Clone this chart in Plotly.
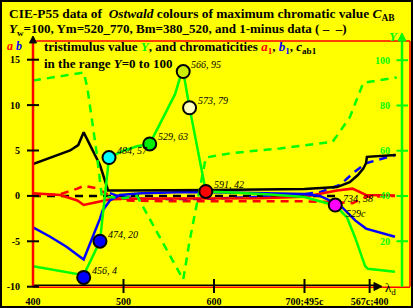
import plotly.graph_objects as go

W, H = 413, 308
SERIF = "Liberation Serif, Times New Roman, serif"

# ---------------- data ----------------
# x axis: wavelength scale (nm); 700;495c and 567c;400 are extra positions
x_tick_vals = [400, 500, 600, 700, 772]
x_tick_text = ["400", "500", "600", "700;495c", "567c;400"]
ab_tick_vals = [-10, -5, 0, 5, 10, 15]
Y_tick_vals = [20, 40, 60, 80, 100]

# tristimulus value Y (solid green)
wl_Y = [400, 430, 456, 474, 484, 500, 515, 529, 543, 557, 563, 566, 573, 591, 620,
        662, 700, 717, 734, 747, 756, 767, 770, 800]
Y_val = [9, 7, 5, 20, 57, 60, 62, 63, 74, 85, 93, 95, 79, 42, 41.5,
         40.7, 39.5, 37.7, 35.8, 30.5, 21.6, 9, 7.8, 6.5]

# 1-minus tristimulus value (dashed green)
wl_Ym = [400, 456, 460, 465, 470, 476, 484, 500, 515, 566, 573, 591, 620, 673, 731, 750, 765, 802]
Ym_val = [91, 94.6, 88, 75, 60, 40, 39.5, 39, 40, 3, 20, 57, 59, 61, 63.9, 74.7, 90, 92.4]

# chromaticity a1 (solid red) and 1-minus (dashed red)
wl_a = [400, 430, 449, 456, 470, 484, 500, 550, 600, 650, 700, 736, 753, 768, 800]
a1_val = [0.3, 0.1, -0.5, -1.0, -0.7, -0.4, -0.3, -0.3, -0.3, -0.25, -0.1, 0.6, 0.8, 0.1, 0.05]
a1m_val = [0.0, 0.2, 0.8, 1.1, 0.85, 0.1, -0.5, -0.6, -0.6, -0.6, -0.6, -0.7, -0.8, -0.1, 0.0]

# chromaticity b1 (solid blue)
wl_b = [400, 419, 437, 449, 456, 474, 477, 485, 496, 520, 560, 600, 650, 700, 717, 739, 756, 768, 800]
b1_val = [-3.45, -4.5, -5.6, -6.5, -7.0, -2.5, -1.6, -0.5, 0.1, 0.3, 0.4, 0.4, 0.3, 0.2, 0.0,
          -1.0, -2.7, -3.6, -4.5]
# 1-minus b1 (dashed blue, visible part)
wl_bm = [485, 496, 520, 560, 600, 650, 700, 717, 739, 756, 768, 800]
b1m_val = [0.3, -0.1, -0.3, -0.35, -0.3, -0.1, 0.2, 0.4, 1.2, 2.7, 3.6, 4.5]

# chroma c_ab1 (solid black) and 1-minus (dashed black)
wl_c = [400, 441, 450, 456, 474, 483, 500, 550, 600, 650, 700, 736, 750, 759, 765, 768, 769, 801]
c_val = [3.5, 5.0, 5.6, 7.0, 3.4, 0.6, 0.6, 0.6, 0.65, 0.7, 0.75, 0.97, 1.5, 2.3, 3.0, 3.6, 4.3, 4.5]
wl_cm = [400, 740]
cm_val = [0.0, 0.0]

# marked samples (on the Y curve)
mk_wl = [456, 474, 484, 529, 566, 573, 591, 734]
mk_Y = [4, 20, 57, 63, 95, 79, 42, 36]
mk_col = ["#0000ff", "#0000ff", "#00ffff", "#00ee00", "#ccee00", "#ffffc0", "#ff0000", "#ff00ff"]
mk_lab = ["456, 4", "474, 20", "484, 57", "529, 63", "566, 95", "573, 79", "591, 42", "734, 38"]

# ---------------- geometry ----------------
X_RANGE = [400, 816.6]
AB_RANGE = [-10, 17.06]
Y_RANGE = [-0.1, 108.5]
PX_L, PX_R = 33, 410
PY_T, PY_B = 41, 286.7

def px(v):  # data x -> pixel
    return PX_L + (v - X_RANGE[0]) / (X_RANGE[1] - X_RANGE[0]) * (PX_R - PX_L)

def py_ab(v):
    return PY_B - (v - AB_RANGE[0]) / (AB_RANGE[1] - AB_RANGE[0]) * (PY_B - PY_T)

def py_Y(v):
    return PY_B - (v - Y_RANGE[0]) / (Y_RANGE[1] - Y_RANGE[0]) * (PY_B - PY_T)

def PX(x):
    return x / W

def PY(y):
    return 1 - y / H

GREEN = "#00ff00"

fig = go.Figure()

def line(x, y, color, dash=None, yaxis="y", width=2.5):
    fig.add_trace(go.Scatter(x=x, y=y, mode="lines", yaxis=yaxis,
                             line=dict(color=color, width=width, dash=dash),
                             hoverinfo="skip", showlegend=False))

DASH = "8px,6px"
line(wl_cm, cm_val, "black", DASH)
line(wl_a, a1m_val, "#ff0000", DASH)
line(wl_bm, b1m_val, "#0000ff", DASH)
line(wl_a, a1_val, "#ff0000")
line(wl_b, b1_val, "#0000ff")
line(wl_c, c_val, "black")
line(wl_Ym, Ym_val, GREEN, DASH, yaxis="y2")
line(wl_Y, Y_val, GREEN, yaxis="y2")

fig.add_trace(go.Scatter(x=mk_wl, y=mk_Y, yaxis="y2", mode="markers",
                         marker=dict(size=13, color=mk_col, line=dict(color="black", width=2)),
                         hoverinfo="skip", showlegend=False))

shapes = []
def seg(x0, y0, x1, y1, color, width=2):
    shapes.append(dict(type="line", xref="paper", yref="paper",
                       x0=PX(x0), y0=PY(y0), x1=PX(x1), y1=PY(y1),
                       line=dict(color=color, width=width)))

def tri(pts, color):
    d = "M " + " L ".join(f"{PX(a):.5f} {PY(b):.5f}" for a, b in pts) + " Z"
    shapes.append(dict(type="path", xref="paper", yref="paper", path=d,
                       fillcolor=color, line=dict(color=color, width=1)))

# outer border
shapes.append(dict(type="rect", xref="paper", yref="paper", x0=PX(1), y0=PY(1), x1=PX(412), y1=PY(307),
                   line=dict(color="black", width=2)))
# frame
seg(PX_L, PY_T, PX_R, PY_T, "#ff0000", 1.5)
seg(PX_R, PY_T, PX_R, PY_B, "#ff0000", 1.5)
seg(PX_L, PY_B - 1.5, 378, PY_B - 1.5, "black", 1.5)
seg(PX_L, PY_B + 0.5, PX_R, PY_B + 0.5, "#ff0000", 1.5)
seg(PX_L, PY_B, PX_L, PY_T, "#ff0000", 2.5)
tri([(29.5, 43), (36.5, 43), (33, 36)], "black")
seg(33, 43, 33, 40, "black", 2)
# bottom arrow
tri([(374, 282.5), (374, 290.5), (382, 286.5)], "black")
# left ticks
for v in ab_tick_vals:
    seg(27, py_ab(v), 39, py_ab(v), "black", 2)
# x ticks
for v in x_tick_vals[1:]:
    seg(px(v), 279, px(v), 293, "black", 2)
# green Y axis
GX = 402
seg(GX, PY_B, GX, 40, GREEN, 2.5)
tri([(398, 41), (406, 41), (402, 33)], GREEN)
for v in Y_tick_vals:
    seg(GX - 5.5, py_Y(v), GX + 6, py_Y(v), GREEN, 2)

ann = []
def text(x, y, s, size=12, color="black", anchor="left"):
    ann.append(dict(xref="paper", yref="paper", x=PX(x), y=PY(y), text=s, showarrow=False,
                    xanchor=anchor, yanchor="middle",
                    font=dict(family=SERIF, size=size, color=color)))

text(7, 15, "<b>CIE-P55 data of  <i>Ostwald</i> colours of maximum chromatic value <i>C</i><sub>AB</sub></b>", 13.4)
text(7, 30, "<b><i>Y</i><sub>w</sub>=100, Ym=520_770, Bm=380_520, and 1-minus data ( –  –)</b>", 13)
text(42, 47, "<b>tristimulus value <span style='color:#00ff00'><i>Y</i></span>, and chromaticities "
             "<span style='color:#ff0000'><i>a</i><sub>1</sub></span>, "
             "<span style='color:#0000ff'><i>b</i><sub>1</sub></span>, <i>c</i><sub>ab1</sub></b>", 13)
text(42, 63, "<b>in the range <i>Y</i>=0 to 100</b>", 13)
text(5, 46, "<b><i><span style='color:#ff0000'>a</span> <span style='color:#0000ff'>b</span></i></b>", 12)
text(387, 36, "<b><i>Y</i></b>", 13, GREEN)
text(383, 288, "λ<sub>d</sub>", 13)

for w, yv, s in zip(mk_wl, mk_Y, mk_lab):
    ann.append(dict(xref="x", yref="y2", x=w, y=yv, text=f"<i>{s}</i>", showarrow=False,
                    xanchor="left", yanchor="middle", xshift=6, yshift=7,
                    font=dict(family=SERIF, size=10, color="black")))
ann.append(dict(xref="x", yref="y2", x=mk_wl[-1], y=mk_Y[-1], text="<i>529c</i>", showarrow=False,
                xanchor="left", yanchor="middle", xshift=9, yshift=-8,
                font=dict(family=SERIF, size=10, color="black")))

fig.update_layout(
    width=W, height=H, margin=dict(l=0, r=0, t=0, b=0, autoexpand=False),
    paper_bgcolor="#ffff00", plot_bgcolor="#ffff00",
    showlegend=False, shapes=shapes, annotations=ann,
    xaxis=dict(range=X_RANGE, domain=[PX_L / W, PX_R / W], showgrid=False, zeroline=False,
               showline=False, automargin=False, tickvals=x_tick_vals,
               ticktext=[f"<b>{t}</b>" for t in x_tick_text],
               ticks="outside", ticklen=5, tickcolor="rgba(0,0,0,0)",
               tickfont=dict(family=SERIF, size=10, color="black")),
    yaxis=dict(range=AB_RANGE, domain=[(H - PY_B) / H, (H - PY_T) / H], showgrid=False,
               zeroline=False, showline=False, automargin=False, tickvals=ab_tick_vals,
               ticktext=[f"<b>{v}</b>" for v in ab_tick_vals],
               ticks="outside", ticklen=10, tickcolor="rgba(0,0,0,0)",
               tickfont=dict(family=SERIF, size=10, color="black")),
    yaxis2=dict(range=Y_RANGE, overlaying="y", anchor="free", position=GX / W, side="left",
                showgrid=False, zeroline=False, showline=False, automargin=False,
                tickvals=Y_tick_vals, ticktext=[f"<b>{v}</b>" for v in Y_tick_vals],
                ticks="outside", ticklen=10, tickcolor="rgba(0,0,0,0)",
                tickfont=dict(family=SERIF, size=10, color=GREEN)),
)

fig.write_html("out.html", config={"displayModeBar": False},
               post_script="document.body.style.margin='0';document.body.style.padding='0';")
